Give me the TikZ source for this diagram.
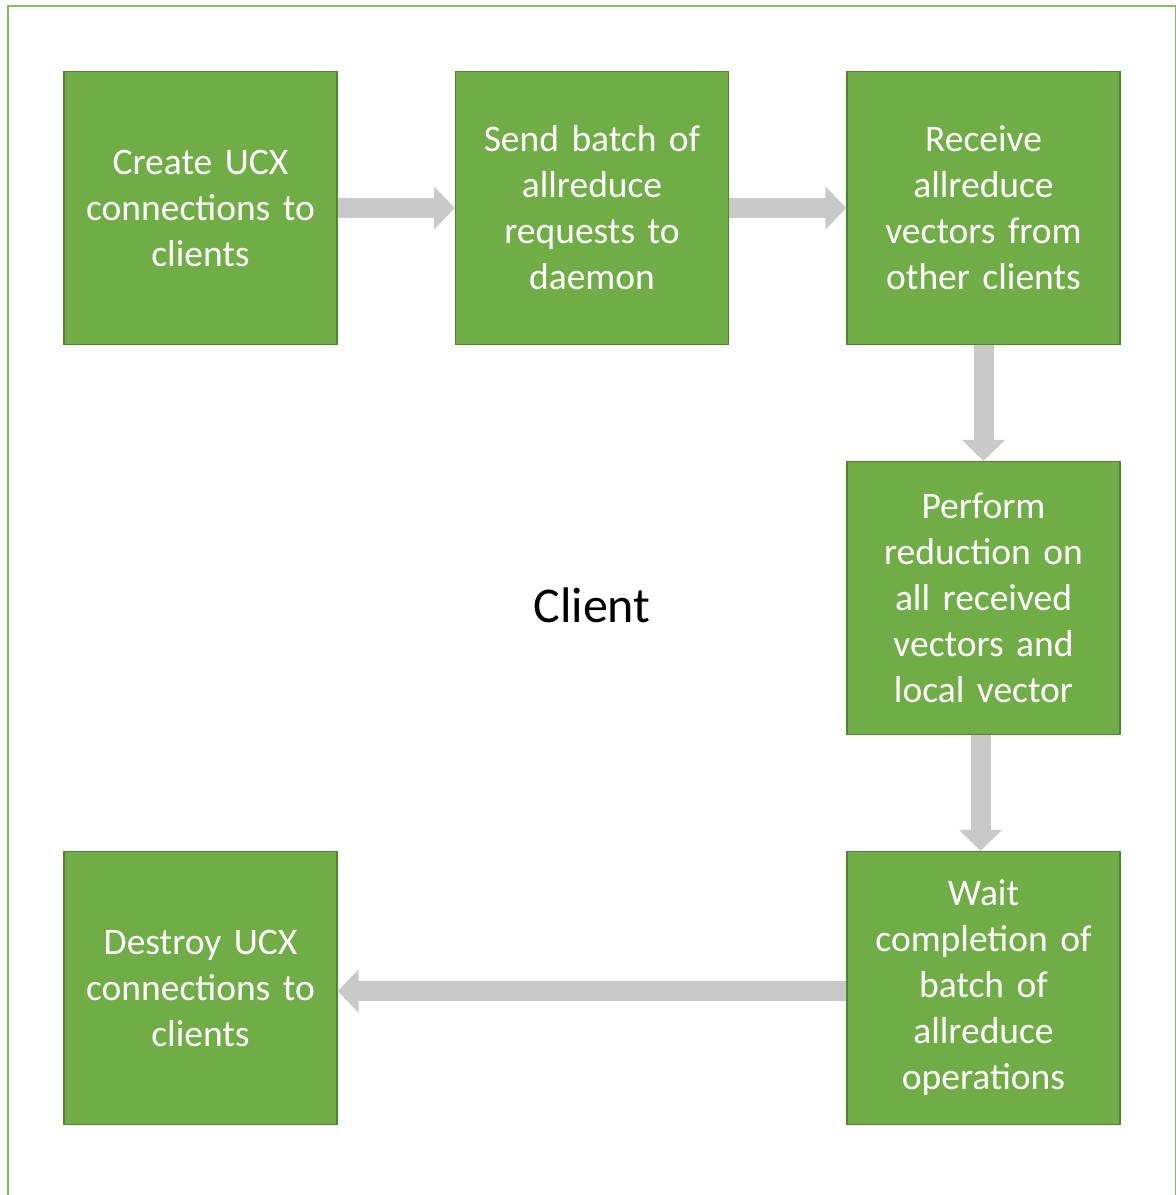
\documentclass[tikz,border=0pt]{standalone}
\usepackage{fontspec}
\setmainfont{Carlito}[WordSpace=0.8]
\usepackage{tikz}
\usetikzlibrary{positioning, arrows.meta}

\definecolor{boxgreen}{RGB}{112,173,71}
\definecolor{boxedge}{RGB}{84,130,53}
\definecolor{framegreen}{RGB}{130,190,95}
\definecolor{arrowgray}{RGB}{201,201,201}

\begin{document}
\begin{tikzpicture}[x=1pt,y=-1pt,inner sep=0pt,node distance=391.5pt,
  stage/.style={draw=boxedge,line width=1.2pt,fill=boxgreen,minimum width=273pt,minimum height=273pt,
    text width=262pt,align=center,text=white,font=\fontsize{37.5}{46}\selectfont},
  flow/.style={draw=arrowgray,line width=20pt,-{Triangle[width=42pt,length=21pt]}}]%
\path[use as bounding box,clip] (0,0) rectangle (1176,1195);
% frame of the client side
\draw[framegreen,line width=2.5pt] (8,1300) -- (8,6) -- (1176,6) -- (1176,1300);
% top row
\node [stage] (C1) at (200.5,208) {Create UCX\\connections to\\clients};
\node [stage] [right of=C1] (C2) {Send batch of\\allreduce\\requests to\\daemon};
\node [stage] [right of=C2] (C3) {Receive\\allreduce\\vectors from\\other clients};
% right column
\node [stage] [below of=C3,node distance=390pt] (C4) {Perform\\reduction on\\all received\\vectors and\\local vector};
\node [stage] [below of=C4,node distance=390pt] (C5) {Wait\\completion of\\batch of\\allreduce\\operations};
\node [stage] [left of=C5,node distance=783pt] (C6) {Destroy UCX\\connections to\\clients};
\node [font=\fontsize{50}{60}\selectfont] (lbl) at ([yshift=-7pt]C2 |- C4) {Client};
\draw [flow] (C1.east) -- (C2.west);
\draw [flow] (C2.east) -- (C3.west);
\draw [flow] (C3.south) -- (C4.north);
\draw [flow] ([xshift=-3pt]C4.south) -- ([xshift=-3pt]C5.north);
\draw [flow] ([yshift=-3pt]C5.west) -- ([yshift=-3pt]C6.east);
\end{tikzpicture}
\end{document}
